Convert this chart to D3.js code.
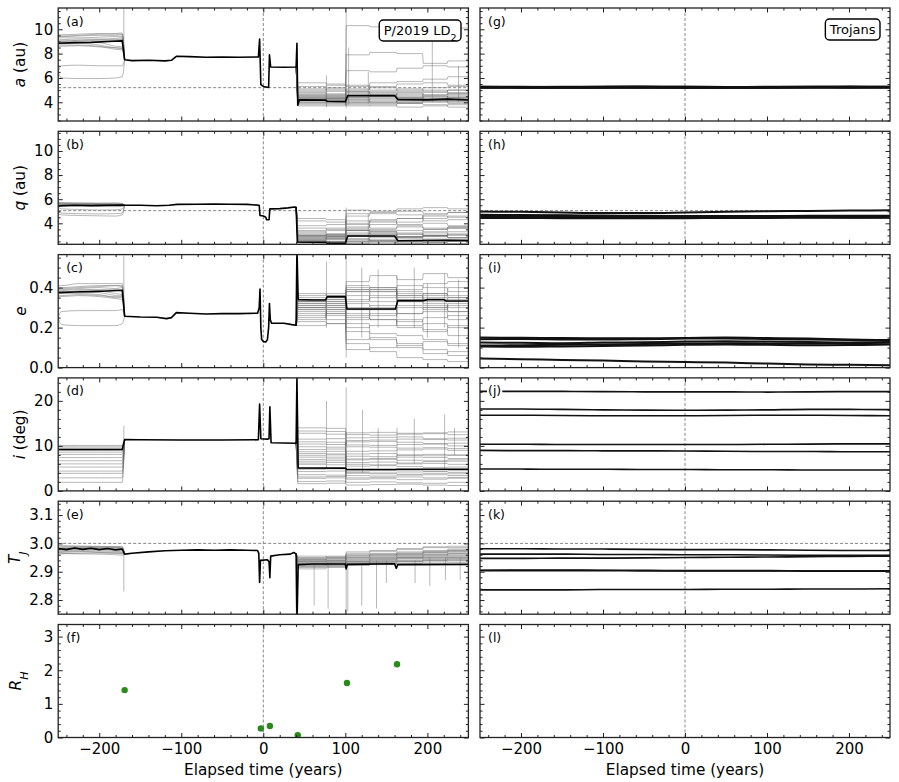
<!DOCTYPE html>
<html>
<head>
<meta charset="utf-8">
<script src="https://cdn.jsdelivr.net/npm/d3@7"></script>
<style>
  body { margin: 0; background: #fff; }
  svg text { font-family: "DejaVu Sans", sans-serif; }
</style>
</head>
<body>
<svg id="chart" width="899" height="782"></svg>
<script>
// ---------------- data ----------------

// nominal orbit of P/2019 LD2: [elapsed years, value]
const nominalA = [[-250, 8.85], [-230, 8.9], [-210, 8.92], [-190, 9.0], [-172, 9.05], [-169, 7.5], [-160, 7.42],
  [-140, 7.45], [-120, 7.4], [-112, 7.45], [-106, 7.78], [-90, 7.75], [-70, 7.7], [-50, 7.72], [-30, 7.7],
  [-6, 7.72], [-4.5, 9.2], [-3, 5.45], [0, 5.3], [6.5, 5.22], [7.5, 7.9], [9, 6.9], [25, 6.88], [40, 6.9],
  [41, 8.85], [42, 3.75], [44, 4.2], [76, 4.18], [78, 4.07], [100, 4.05], [103, 4.55], [160, 4.55],
  [164, 4.22], [200, 4.2], [225, 4.26], [250, 4.2]];
const nominalQ = [[-250, 5.45], [-230, 5.5], [-210, 5.47], [-190, 5.5], [-172, 5.52], [-169, 5.5], [-150, 5.5],
  [-130, 5.46], [-115, 5.5], [-105, 5.57], [-80, 5.58], [-60, 5.6], [-40, 5.58], [-20, 5.57], [-5, 5.5],
  [-4, 4.65], [0, 4.6], [3, 4.5], [4, 4.3], [7, 4.3], [8, 5.2], [20, 5.22], [30, 5.28], [38, 5.35], [40, 5.32],
  [41.5, 2.45], [60, 2.43], [76, 2.42], [78, 2.35], [100, 2.34], [103, 2.95], [160, 2.95], [164, 2.56],
  [200, 2.58], [225, 2.6], [250, 2.57]];
const nominalE = [[-250, 0.375], [-230, 0.378], [-210, 0.38], [-190, 0.383], [-172, 0.387], [-169, 0.257],
  [-150, 0.253], [-130, 0.252], [-118, 0.245], [-112, 0.25], [-106, 0.275], [-90, 0.272], [-70, 0.268],
  [-50, 0.27], [-30, 0.27], [-7, 0.272], [-5, 0.3], [-4, 0.393], [-3, 0.2], [-2, 0.14], [0, 0.13], [3, 0.128],
  [5, 0.14], [6.5, 0.2], [7.5, 0.32], [8.5, 0.24], [10, 0.222], [25, 0.222], [35, 0.215], [40, 0.212],
  [41, 0.6], [42.5, 0.34], [60, 0.338], [76, 0.338], [78, 0.355], [100, 0.355], [102, 0.293], [161, 0.293],
  [164, 0.335], [195, 0.335], [200, 0.34], [220, 0.34], [223, 0.333], [250, 0.333]];
const nominalI = [[-250, 9.2], [-200, 9.2], [-172, 9.2], [-169, 11.4], [-150, 11.35], [-100, 11.3], [-50, 11.3],
  [-6, 11.35], [-4.5, 19.3], [-3, 11.6], [5, 11.5], [7, 11.6], [8, 18.7], [9.5, 10.7], [25, 10.65], [40, 10.6],
  [41, 25.5], [42.5, 5.1], [100, 5.05], [102, 4.75], [160, 4.75], [164, 4.8], [250, 4.8]];
const nominalT = [[-250, 2.982], [-240, 2.978], [-230, 2.984], [-220, 2.979], [-210, 2.983], [-200, 2.978],
  [-190, 2.982], [-180, 2.977], [-172, 2.98], [-169, 2.962], [-160, 2.965], [-140, 2.97], [-120, 2.974],
  [-100, 2.976], [-80, 2.977], [-60, 2.976], [-40, 2.977], [-20, 2.976], [-7, 2.975], [-5.5, 2.965],
  [-4.5, 2.862], [-3.5, 2.94], [5, 2.942], [7, 2.935], [8, 2.879], [9, 2.955], [20, 2.96], [33, 2.962],
  [37, 2.968], [40, 2.963], [41, 2.7], [42.5, 2.925], [60, 2.927], [100, 2.927], [101, 2.91], [102.5, 2.926],
  [160, 2.928], [162, 2.912], [164, 2.925], [250, 2.926]];

// clones before the -170 yr encounter, values at these times
const preTimes = [-250, -246, -225, -200, -180, -172];
const preA = [
  [6.5, 7.0, 7.05, 7.0, 7.0, 7.0], [6.5, 6.0, 5.95, 5.95, 6.0, 6.1],
  [9.55, 9.55, 9.6, 9.65, 9.6, 9.6], [9.4, 9.4, 9.45, 9.5, 9.5, 9.55], [9.3, 9.3, 9.3, 9.35, 9.4, 9.4],
  [9.15, 9.15, 9.2, 9.2, 9.25, 9.3], [9.05, 9.05, 9.05, 9.1, 9.15, 9.2], [8.95, 8.95, 8.95, 8.9, 8.6, 8.55],
  [8.8, 8.8, 8.85, 8.7, 8.45, 8.4], [8.7, 8.7, 8.7, 8.6, 8.35, 8.3], [9.0, 9.0, 9.1, 9.15, 9.1, 9.15],
  [8.85, 8.85, 8.9, 8.95, 9.0, 9.0], [9.45, 9.45, 9.5, 9.6, 9.65, 9.7], [8.6, 8.6, 8.65, 8.55, 8.5, 8.45]];
const preQ = [
  [5.75, 5.72, 5.7, 5.68, 5.7, 5.65], [5.65, 5.65, 5.62, 5.6, 5.58, 5.6], [5.6, 5.58, 5.55, 5.55, 5.52, 5.55],
  [5.5, 5.5, 5.48, 5.45, 5.45, 5.48], [5.7, 5.68, 5.66, 5.64, 5.62, 5.6], [5.55, 5.52, 5.5, 5.52, 5.55, 5.52],
  [5.4, 5.42, 5.45, 5.4, 5.38, 5.42], [5.62, 5.6, 5.6, 5.58, 5.6, 5.57], [4.9, 4.85, 4.8, 4.78, 4.8, 4.85],
  [4.8, 4.7, 4.65, 4.62, 4.6, 4.7], [5.35, 5.2, 5.15, 5.1, 5.12, 5.2], [5.48, 5.47, 5.45, 5.5, 5.47, 5.45]];
const preE = [
  [0.41, 0.41, 0.42, 0.42, 0.42, 0.42], [0.40, 0.40, 0.405, 0.41, 0.41, 0.405], [0.39, 0.39, 0.395, 0.40, 0.395, 0.40],
  [0.385, 0.385, 0.39, 0.385, 0.37, 0.365], [0.38, 0.38, 0.38, 0.375, 0.36, 0.355], [0.37, 0.37, 0.37, 0.365, 0.35, 0.35],
  [0.36, 0.36, 0.365, 0.36, 0.355, 0.36], [0.395, 0.395, 0.40, 0.405, 0.41, 0.41], [0.355, 0.355, 0.36, 0.355, 0.345, 0.34],
  [0.25, 0.28, 0.285, 0.285, 0.285, 0.29], [0.25, 0.215, 0.21, 0.21, 0.21, 0.22], [0.375, 0.375, 0.385, 0.39, 0.39, 0.385]];
const preI = [
  [10.1, 10.1, 10.1, 10.1, 10.1, 10.1], [9.8, 9.8, 9.8, 9.8, 9.8, 9.8], [9.5, 9.5, 9.5, 9.5, 9.5, 9.5],
  [9.0, 9.0, 9.0, 9.0, 9.0, 9.0], [8.6, 8.6, 8.6, 8.6, 8.6, 8.6], [8.1, 8.1, 8.1, 8.1, 8.1, 8.1],
  [7.4, 7.4, 7.4, 7.4, 7.4, 7.4], [6.7, 6.7, 6.7, 6.7, 6.7, 6.7], [6.0, 6.0, 6.0, 6.0, 6.0, 6.0],
  [5.3, 5.3, 5.3, 5.3, 5.3, 5.3], [4.4, 4.4, 4.4, 4.4, 4.4, 4.4], [3.9, 3.9, 3.9, 3.9, 3.9, 3.9],
  [2.9, 2.9, 2.9, 2.9, 2.9, 2.9], [1.9, 1.9, 1.9, 1.9, 1.9, 1.9]];
const preT = [
  [2.99, 2.99, 2.99, 2.988, 2.986, 2.985], [2.985, 2.986, 2.987, 2.985, 2.983, 2.982], [2.978, 2.98, 2.982, 2.98, 2.978, 2.977],
  [2.972, 2.974, 2.975, 2.974, 2.972, 2.97], [2.968, 2.968, 2.97, 2.968, 2.966, 2.965], [2.962, 2.963, 2.965, 2.966, 2.965, 2.963],
  [2.993, 2.992, 2.99, 2.99, 2.988, 2.99], [2.975, 2.977, 2.979, 2.982, 2.984, 2.98], [2.966, 2.965, 2.963, 2.962, 2.96, 2.958],
  [2.98, 2.982, 2.985, 2.987, 2.988, 2.986], [2.97, 2.971, 2.972, 2.97, 2.969, 2.968], [2.984, 2.983, 2.98, 2.978, 2.976, 2.975]];

// clones after the +40 yr encounter, one level per interval between these times
const postTimes = [42, 77, 101, 130, 163, 195, 225, 250];
const postA = [
  [4.2, 4.1, 4.5, 4.5, 4.3, 4.2, 4.2], [4.4, 4.3, 4.0, 4.1, 4.0, 4.2, 4.1], [4.6, 4.7, 4.4, 4.5, 4.8, 4.6, 4.7],
  [5.0, 5.2, 5.4, 5.3, 5.5, 5.6, 5.4], [5.6, 5.5, 5.3, 5.0, 5.1, 4.9, 5.0], [4.0, 3.9, 3.8, 3.7, 3.9, 3.8, 3.6],
  [3.8, 3.7, 4.2, 4.3, 4.0, 4.1, 3.9], [4.3, 4.5, 4.7, 4.9, 5.0, 5.2, 5.3], [4.8, 4.6, 3.9, 4.0, 4.2, 4.4, 4.5],
  [4.1, 4.2, 4.3, 4.2, 4.4, 4.3, 4.6], [5.3, 5.4, 6.6, 6.5, 6.8, 7.0, 6.9], [4.5, 4.4, 4.2, 4.0, 3.9, 4.0, 4.1],
  [4.2, 4.0, 4.8, 4.7, 4.5, 4.8, 5.0], [3.9, 4.1, 10.3, 10.2, 10.4, 10.3, 10.1], [4.7, 4.9, 5.1, 5.6, 5.7, 5.9, 6.1],
  [4.4, 4.3, 3.7, 3.8, 3.6, 3.7, 3.8], [5.1, 5.0, 4.9, 4.6, 4.4, 4.5, 4.3], [4.0, 4.3, 4.4, 4.6, 4.7, 4.6, 4.8],
  [4.6, 4.5, 7.9, 8.1, 8.0, 7.2, 7.4], [4.3, 4.2, 4.1, 4.4, 4.3, 4.1, 4.0], [3.7, 3.8, 4.0, 3.9, 4.1, 4.2, 4.4],
  [4.9, 5.1, 5.0, 5.2, 4.9, 5.0, 4.7], [4.5, 4.6, 4.9, 4.8, 4.6, 4.3, 4.2], [4.2, 4.4, 4.6, 4.5, 4.3, 4.5, 4.4]];
const postQ = [
  [2.5, 2.4, 3.0, 3.0, 2.6, 2.6, 2.6], [2.8, 2.7, 2.5, 2.6, 2.5, 2.7, 2.6], [3.0, 3.1, 3.4, 3.5, 3.8, 3.6, 3.7],
  [3.4, 3.6, 4.2, 4.1, 4.4, 4.6, 4.5], [4.2, 4.1, 3.9, 3.6, 3.7, 3.5, 3.6], [2.4, 2.4, 2.3, 2.4, 2.5, 2.4, 2.3],
  [2.6, 2.5, 3.1, 3.2, 2.9, 3.0, 2.8], [2.9, 3.1, 3.6, 3.9, 4.1, 4.4, 4.6], [3.3, 3.0, 2.5, 2.6, 2.8, 3.0, 3.1],
  [2.7, 2.8, 2.9, 2.8, 3.1, 3.0, 3.3], [3.8, 3.9, 5.1, 5.0, 5.2, 5.3, 5.2], [3.0, 2.9, 2.7, 2.5, 2.4, 2.5, 2.6],
  [2.6, 2.5, 3.4, 3.3, 3.1, 3.5, 3.7], [2.5, 2.7, 4.8, 4.9, 5.0, 4.8, 4.9], [3.2, 3.4, 3.7, 4.3, 4.4, 4.7, 4.9],
  [2.9, 2.8, 2.4, 2.5, 2.3, 2.4, 2.5], [3.6, 3.5, 3.4, 3.1, 2.9, 3.0, 2.8], [2.6, 2.9, 3.0, 3.3, 3.4, 3.3, 3.6],
  [3.1, 3.0, 4.6, 4.8, 4.7, 4.2, 4.3], [2.8, 2.7, 2.6, 2.9, 2.8, 2.6, 2.5], [2.4, 2.5, 2.7, 2.6, 2.8, 2.9, 3.1],
  [4.4, 4.3, 4.0, 4.2, 3.9, 4.0, 3.8], [3.0, 3.1, 3.5, 3.4, 3.2, 2.9, 2.8], [2.7, 2.9, 3.2, 3.1, 2.9, 3.2, 3.0]];
const postE = [
  [0.33, 0.35, 0.29, 0.29, 0.33, 0.33, 0.34], [0.31, 0.32, 0.39, 0.38, 0.36, 0.34, 0.35], [0.29, 0.28, 0.25, 0.24, 0.21, 0.22, 0.20],
  [0.27, 0.24, 0.14, 0.15, 0.10, 0.07, 0.08], [0.21, 0.22, 0.24, 0.29, 0.27, 0.30, 0.28], [0.36, 0.37, 0.38, 0.39, 0.37, 0.36, 0.40],
  [0.34, 0.35, 0.27, 0.26, 0.30, 0.29, 0.31], [0.30, 0.27, 0.18, 0.14, 0.12, 0.09, 0.06], [0.25, 0.29, 0.39, 0.40, 0.36, 0.32, 0.30],
  [0.32, 0.31, 0.30, 0.31, 0.27, 0.28, 0.24], [0.23, 0.22, 0.09, 0.10, 0.11, 0.13, 0.12], [0.30, 0.31, 0.34, 0.38, 0.41, 0.40, 0.38],
  [0.33, 0.35, 0.20, 0.21, 0.24, 0.19, 0.16], [0.35, 0.34, 0.41, 0.40, 0.34, 0.35, 0.33], [0.28, 0.26, 0.22, 0.17, 0.16, 0.14, 0.11],
  [0.31, 0.30, 0.43, 0.46, 0.44, 0.47, 0.45], [0.26, 0.29, 0.32, 0.30, 0.33, 0.31, 0.28], [0.34, 0.33, 0.26, 0.27, 0.23, 0.25, 0.26],
  [0.32, 0.34, 0.38, 0.36, 0.38, 0.37, 0.36], [0.29, 0.30, 0.12, 0.08, 0.05, 0.04, 0.03], [0.37, 0.36, 0.33, 0.35, 0.39, 0.42, 0.43],
  [0.24, 0.27, 0.29, 0.24, 0.20, 0.18, 0.21], [0.33, 0.32, 0.40, 0.39, 0.31, 0.30, 0.32], [0.30, 0.33, 0.36, 0.33, 0.35, 0.37, 0.35]];
const postI = [
  [5.0, 5.0, 4.7, 4.7, 4.8, 4.8, 4.8], [14.0, 13.9, 12.5, 12.4, 12.6, 12.7, 12.5], [12.8, 12.6, 11.8, 11.9, 12.0, 11.6, 11.7],
  [11.5, 11.6, 9.8, 9.7, 9.5, 9.6, 9.4], [10.4, 10.3, 10.9, 11.0, 10.8, 10.5, 10.6], [9.2, 9.3, 8.2, 8.3, 8.0, 7.8, 7.9],
  [8.3, 8.2, 7.1, 7.2, 7.5, 7.4, 7.2], [7.5, 7.5, 6.3, 6.4, 6.2, 6.5, 6.6], [6.6, 6.7, 5.5, 5.6, 5.4, 5.2, 5.3],
  [5.9, 5.8, 4.1, 4.0, 4.2, 4.3, 4.1], [4.3, 4.4, 3.4, 3.3, 3.5, 3.6, 3.4], [3.6, 3.5, 2.6, 2.7, 2.5, 2.6, 2.8],
  [2.8, 2.9, 1.9, 2.0, 1.8, 1.7, 1.9], [2.1, 2.2, 1.3, 1.4, 1.5, 1.3, 1.2], [1.6, 1.7, 8.8, 8.9, 9.1, 9.3, 9.0],
  [13.3, 13.2, 10.2, 10.1, 10.3, 10.4, 10.0], [10.9, 10.8, 6.9, 7.0, 6.8, 6.7, 6.9], [9.8, 9.7, 3.9, 3.8, 3.7, 3.9, 3.8],
  [8.7, 8.8, 11.2, 11.3, 11.5, 11.4, 11.3], [7.9, 8.0, 5.9, 5.8, 6.0, 6.1, 5.9], [7.0, 7.1, 2.9, 3.0, 3.1, 2.9, 3.0],
  [6.2, 6.3, 12.9, 13.0, 12.8, 12.9, 13.1], [4.8, 4.9, 4.4, 4.5, 4.6, 4.4, 4.5], [3.1, 3.2, 7.7, 7.6, 7.9, 8.1, 8.0]];
const postT = [
  [2.925, 2.922, 2.931, 2.930, 2.928, 2.930, 2.932], [2.935, 2.938, 2.945, 2.950, 2.955, 2.960, 2.958],
  [2.940, 2.945, 2.960, 2.965, 2.970, 2.975, 2.980], [2.915, 2.918, 2.925, 2.935, 2.940, 2.945, 2.950],
  [2.945, 2.940, 2.935, 2.940, 2.945, 2.950, 2.948], [2.930, 2.932, 2.950, 2.955, 2.962, 2.968, 2.972],
  [2.920, 2.925, 2.940, 2.945, 2.950, 2.955, 2.962], [2.950, 2.955, 2.965, 2.972, 2.978, 2.985, 2.990],
  [2.928, 2.930, 2.935, 2.938, 2.946, 2.952, 2.955], [2.938, 2.936, 2.925, 2.928, 2.935, 2.940, 2.945],
  [2.955, 2.950, 2.970, 2.975, 2.982, 2.988, 2.985], [2.910, 2.915, 2.930, 2.935, 2.938, 2.942, 2.940],
  [2.933, 2.940, 2.955, 2.960, 2.966, 2.970, 2.975], [2.942, 2.945, 2.948, 2.952, 2.958, 2.962, 2.966],
  [2.918, 2.920, 2.922, 2.925, 2.930, 2.935, 2.938], [2.948, 2.952, 2.942, 2.946, 2.952, 2.958, 2.964],
  [2.926, 2.928, 2.936, 2.944, 2.950, 2.948, 2.952], [2.936, 2.934, 2.958, 2.962, 2.960, 2.966, 2.970],
  [2.922, 2.926, 2.928, 2.932, 2.936, 2.940, 2.944], [2.944, 2.948, 2.952, 2.958, 2.965, 2.972, 2.976]];

// brief excursions of single clones at close approaches: [time, from, to]
const spikesA = [[-170, 7.5, 11.8], [77, 3.6, 6.2], [101, 3.5, 11.8], [104, 3.8, 8.5], [128, 3.9, 6.5], [206, 4.0, 9.0], [238, 4.0, 7.0]];
const spikesQ = [[101, 2.3, 5.3], [128, 2.4, 4.8]];
const spikesE = [[-170, 0.26, 0.56], [77, 0.2, 0.53], [101, 0.05, 0.56], [120, 0.15, 0.5], [140, 0.2, 0.49], [163, 0.25, 0.46],
  [184, 0.2, 0.5], [200, 0.15, 0.42], [221, 0.2, 0.47], [238, 0.1, 0.44]];
const spikesI = [[-170, 9.5, 14.5], [77, 5, 20], [101, 3, 23], [121, 4, 18], [140, 5, 14], [163, 6, 14], [184, 6, 16], [221, 5, 17], [233, 8, 14]];
const spikesT = [[-170, 2.83, 2.965], [62, 2.78, 2.93], [79, 2.77, 2.93], [101, 2.75, 2.93], [103, 2.76, 2.93], [120, 2.78, 2.93],
  [138, 2.77, 2.94], [150, 2.86, 2.94], [185, 2.86, 2.94], [203, 2.85, 2.95], [222, 2.87, 2.95], [240, 2.87, 2.95]];

// Hill radius of the close approaches
const rhTimes = [-169, -3, 8, 42, 102, 163];
const rhValues = [1.41, 0.27, 0.34, 0.07, 1.62, 2.18];

// Jupiter Trojans, values every 50 yr
const trojanTimes = [-250, -200, -150, -100, -50, 0, 50, 100, 150, 200, 250];
const trojanA = [
  [5.24, 5.23, 5.22, 5.23, 5.25, 5.24, 5.22, 5.22, 5.24, 5.25, 5.24], [5.26, 5.25, 5.24, 5.25, 5.27, 5.26, 5.24, 5.23, 5.25, 5.27, 5.26],
  [5.22, 5.21, 5.20, 5.21, 5.22, 5.21, 5.20, 5.21, 5.22, 5.23, 5.22], [5.25, 5.24, 5.26, 5.27, 5.25, 5.23, 5.24, 5.26, 5.27, 5.25, 5.24],
  [5.20, 5.22, 5.23, 5.22, 5.20, 5.21, 5.23, 5.24, 5.22, 5.21, 5.22], [5.27, 5.26, 5.25, 5.26, 5.28, 5.27, 5.25, 5.24, 5.26, 5.28, 5.27]];
const trojanQ = [
  [4.97, 4.95, 4.9, 4.86, 4.86, 4.9, 4.95, 5.0, 5.03, 5.06, 5.08], [4.45, 4.44, 4.43, 4.42, 4.42, 4.43, 4.44, 4.45, 4.46, 4.46, 4.47],
  [4.52, 4.5, 4.48, 4.46, 4.45, 4.46, 4.48, 4.5, 4.5, 4.49, 4.5], [4.66, 4.65, 4.63, 4.6, 4.58, 4.56, 4.55, 4.55, 4.56, 4.58, 4.58],
  [4.7, 4.68, 4.66, 4.64, 4.62, 4.6, 4.6, 4.61, 4.62, 4.63, 4.62], [4.58, 4.57, 4.55, 4.53, 4.52, 4.52, 4.53, 4.54, 4.55, 4.55, 4.56]];
const trojanE = [
  [0.045, 0.042, 0.038, 0.035, 0.030, 0.028, 0.025, 0.020, 0.016, 0.014, 0.012], [0.150, 0.149, 0.148, 0.147, 0.147, 0.148, 0.150, 0.148, 0.145, 0.140, 0.138],
  [0.142, 0.143, 0.141, 0.140, 0.142, 0.145, 0.146, 0.143, 0.140, 0.138, 0.135], [0.110, 0.112, 0.114, 0.116, 0.118, 0.120, 0.122, 0.121, 0.120, 0.122, 0.124],
  [0.105, 0.104, 0.106, 0.108, 0.110, 0.114, 0.116, 0.114, 0.112, 0.113, 0.115], [0.125, 0.124, 0.122, 0.125, 0.127, 0.130, 0.132, 0.130, 0.128, 0.126, 0.128]];
const trojanI = [
  [22.1, 22.1, 22.1, 22.05, 22.0, 22.0, 22.0, 21.95, 22.0, 22.05, 22.05], [18.2, 18.2, 18.1, 18.0, 17.95, 17.9, 17.95, 18.0, 18.1, 18.1, 18.05],
  [16.8, 16.8, 16.75, 16.7, 16.7, 16.7, 16.75, 16.8, 16.8, 16.75, 16.7], [10.35, 10.35, 10.3, 10.3, 10.3, 10.3, 10.3, 10.35, 10.4, 10.45, 10.45],
  [9.0, 8.95, 8.95, 8.9, 8.9, 8.85, 8.8, 8.75, 8.75, 8.7, 8.7], [4.85, 4.85, 4.8, 4.8, 4.75, 4.75, 4.7, 4.7, 4.65, 4.65, 4.65]];
const trojanT = [
  [2.981, 2.981, 2.980, 2.980, 2.979, 2.978, 2.978, 2.977, 2.976, 2.975, 2.975], [2.962, 2.962, 2.962, 2.961, 2.961, 2.960, 2.960, 2.959, 2.958, 2.958, 2.958],
  [2.947, 2.947, 2.948, 2.948, 2.949, 2.950, 2.951, 2.952, 2.953, 2.954, 2.955], [2.904, 2.904, 2.904, 2.904, 2.903, 2.903, 2.903, 2.903, 2.902, 2.902, 2.902],
  [2.905, 2.906, 2.906, 2.905, 2.905, 2.904, 2.904, 2.904, 2.903, 2.903, 2.903], [2.836, 2.836, 2.836, 2.837, 2.837, 2.837, 2.838, 2.838, 2.839, 2.839, 2.840]];

const xMajor = [-200, -100, 0, 100, 200];
const xMinor = [-240, -220, -180, -160, -140, -120, -80, -60, -40, -20, 20, 40, 60, 80, 120, 140, 160, 180, 220, 240];

// ---------------- layout ----------------
const svg = d3.select("#chart");
const colX = [[58.2, 468.4], [480, 890]];
const rowTop = 8, rowStep = 123.3, rowH = 113;
const ink = "#222";

const panels = [
  { label: ["(a)", "(g)"], domain: [2.46, 11.75], major: [4, 6, 8, 10], minorStep: 0.5, fmt: d3.format("d"), hline: 5.2,
    ylab: [["a", "i"], [" (au)", ""]], labX: 25,
    nominal: nominalA, pre: preA, post: postA, spikes: spikesA, trojans: trojanA, trojanW: 2.2 },
  { label: ["(b)", "(h)"], domain: [2.26, 11.63], major: [4, 6, 8, 10], minorStep: 0.5, fmt: d3.format("d"), hline: 5.05,
    ylab: [["q", "i"], [" (au)", ""]], labX: 25,
    nominal: nominalQ, pre: preQ, post: postQ, spikes: spikesQ, trojans: trojanQ, trojanW: 2.0 },
  { label: ["(c)", "(i)"], domain: [0, 0.565], major: [0, 0.2, 0.4], minorStep: 0.05, fmt: d3.format(".1f"), hline: null,
    ylab: [["e", "i"]], labX: 25.5,
    nominal: nominalE, pre: preE, post: postE, spikes: spikesE, trojans: trojanE, trojanW: 2.0 },
  { label: ["(d)", "(j)"], domain: [0, 25.1], major: [0, 10, 20], minorStep: 2, fmt: d3.format("d"), hline: null,
    ylab: [["i", "i"], [" (deg)", ""]], labX: 25,
    nominal: nominalI, pre: preI, post: postI, spikes: spikesI, trojans: trojanI, trojanW: 1.6 },
  { label: ["(e)", "(k)"], domain: [2.75, 3.149], major: [2.8, 2.9, 3.0, 3.1], minorStep: 0.02, fmt: d3.format(".1f"), hline: 3.0,
    ylab: [["T", "i"], ["J", "sub"]], labX: 20,
    nominal: nominalT, pre: preT, post: postT, spikes: spikesT, trojans: trojanT, trojanW: 1.6 },
  { label: ["(f)", "(l)"], domain: [0, 3.36], major: [0, 1, 2, 3], minorStep: 0.2, fmt: d3.format("d"), hline: null,
    ylab: [["R", "i"], ["H", "sub"]], labX: 21,
    nominal: null, pre: null, post: null, spikes: null, trojans: null }
];

function stepTicks(lo, hi, step, skip) {
  const out = [];
  for (let k = Math.ceil(lo / step - 1e-9); k * step <= hi + 1e-9; k++) {
    const v = +(k * step).toFixed(6);
    if (!skip.some(s => Math.abs(s - v) < 1e-9)) out.push(v);
  }
  return out;
}

function valueAt(series, t) {
  const hit = series.find(d => d[0] === t);
  return hit ? hit[1] : series[0][1];
}

panels.forEach((p, row) => {
  const y0 = rowTop + row * rowStep, y1 = y0 + rowH;
  const y = d3.scaleLinear().domain(p.domain).range([y1, y0]);
  const yMinor = stepTicks(p.domain[0], p.domain[1], p.minorStep, p.major);

  [0, 1].forEach(col => {
    const [x0, x1] = colX[col];
    const x = d3.scaleLinear().domain([-250, 250]).range([x0, x1]);
    const line = d3.line().x(d => x(d[0])).y(d => y(d[1]));
    const clipId = `clip-${row}-${col}`;
    svg.append("clipPath").attr("id", clipId)
      .append("rect").attr("x", x0).attr("y", y0).attr("width", x1 - x0).attr("height", y1 - y0);
    const g = svg.append("g").attr("clip-path", `url(#${clipId})`);

    if (col === 0 && p.nominal) {
      const cloneG = g.append("g").attr("fill", "none").attr("stroke", "#6a6a6a")
        .attr("stroke-width", 0.8).attr("stroke-opacity", 0.6);
      const joinPre = valueAt(p.nominal, -169);
      const smooth = d3.line().x(d => x(d[0])).y(d => y(d[1])).curve(d3.curveMonotoneX);
      p.pre.forEach(c => {
        const pts = preTimes.map((t, i) => [t, c[i]]);
        pts.push([-169, joinPre]);
        cloneG.append("path").attr("d", smooth(pts));
      });
      const joinPost = valueAt(p.nominal, 40);
      p.post.forEach(c => {
        const pts = [[40, joinPost]];
        c.forEach((v, i) => {
          pts.push([postTimes[i], v]);
          pts.push([postTimes[i + 1] - (i + 1 < c.length ? 0.8 : 0), v]);
        });
        cloneG.append("path").attr("d", line(pts));
      });
      p.spikes.forEach(s => {
        cloneG.append("line").attr("x1", x(s[0])).attr("x2", x(s[0]))
          .attr("y1", y(s[1])).attr("y2", y(s[2]));
      });
    }

    // reference lines
    g.append("line").attr("x1", x(0)).attr("x2", x(0)).attr("y1", y0).attr("y2", y1)
      .attr("stroke", "#888").attr("stroke-width", 1).attr("stroke-dasharray", "3,2");
    if (p.hline !== null) {
      g.append("line").attr("x1", x0).attr("x2", x1).attr("y1", y(p.hline)).attr("y2", y(p.hline))
        .attr("stroke", "#888").attr("stroke-width", 1).attr("stroke-dasharray", "3,2");
    }

    if (col === 0 && p.nominal) {
      g.append("path").attr("d", line(p.nominal)).attr("fill", "none")
        .attr("stroke", "#000").attr("stroke-width", 1.6).attr("stroke-linejoin", "round");
    }
    if (col === 1 && p.trojans) {
      const smooth = d3.line().x(d => x(d[0])).y(d => y(d[1])).curve(d3.curveMonotoneX);
      p.trojans.forEach(tr => {
        g.append("path").attr("d", smooth(trojanTimes.map((t, i) => [t, tr[i]])))
          .attr("fill", "none").attr("stroke", "#111").attr("stroke-width", p.trojanW);
      });
    }
    if (col === 0 && row === 5) {
      g.selectAll("circle").data(rhTimes).join("circle")
        .attr("cx", d => x(d)).attr("cy", (d, i) => y(rhValues[i])).attr("r", 3.2)
        .attr("fill", "#2a8a1a");
    }

    // axes with inward ticks on all four sides
    const styleAxis = sel => {
      sel.select(".domain").remove();
      sel.selectAll("line").attr("stroke", ink).attr("stroke-width", 1);
      sel.selectAll("text").attr("font-size", 15).attr("fill", "#000")
        .attr("font-family", "'DejaVu Sans', sans-serif");
    };
    const showX = row === 5;
    svg.append("g").attr("transform", `translate(0,${y1})`)
      .call(d3.axisBottom(x).tickValues(xMajor).tickSize(-4.5).tickPadding(6)
        .tickFormat(showX ? d3.format("d") : () => "")).call(styleAxis);
    svg.append("g").attr("transform", `translate(0,${y1})`)
      .call(d3.axisBottom(x).tickValues(xMinor).tickSize(-2.5).tickFormat(() => "")).call(styleAxis);
    svg.append("g").attr("transform", `translate(0,${y0})`)
      .call(d3.axisTop(x).tickValues(xMajor).tickSize(-4.5).tickFormat(() => "")).call(styleAxis);
    svg.append("g").attr("transform", `translate(0,${y0})`)
      .call(d3.axisTop(x).tickValues(xMinor).tickSize(-2.5).tickFormat(() => "")).call(styleAxis);
    svg.append("g").attr("transform", `translate(${x0},0)`)
      .call(d3.axisLeft(y).tickValues(p.major).tickSize(-4.5).tickPadding(5)
        .tickFormat(col === 0 ? p.fmt : () => "")).call(styleAxis);
    svg.append("g").attr("transform", `translate(${x0},0)`)
      .call(d3.axisLeft(y).tickValues(yMinor).tickSize(-2.5).tickFormat(() => "")).call(styleAxis);
    svg.append("g").attr("transform", `translate(${x1},0)`)
      .call(d3.axisRight(y).tickValues(p.major).tickSize(-4.5).tickFormat(() => "")).call(styleAxis);
    svg.append("g").attr("transform", `translate(${x1},0)`)
      .call(d3.axisRight(y).tickValues(yMinor).tickSize(-2.5).tickFormat(() => "")).call(styleAxis);

    svg.append("rect").attr("x", x0).attr("y", y0).attr("width", x1 - x0).attr("height", y1 - y0)
      .attr("fill", "none").attr("stroke", ink).attr("stroke-width", 1.3);

    // panel letter on a white box
    const lab = svg.append("g");
    const lt = lab.append("text").attr("x", x0 + 8).attr("y", y0 + 17.5)
      .attr("font-size", 12.5).text(p.label[col]);
    const bb = lt.node().getBBox();
    lab.insert("rect", "text").attr("x", bb.x - 1).attr("y", bb.y).attr("width", bb.width + 2)
      .attr("height", bb.height).attr("fill", "#fff");

    if (showX) {
      svg.append("text").attr("x", (x0 + x1) / 2).attr("y", 775).attr("text-anchor", "middle")
        .attr("font-size", 15.3).text("Elapsed time (years)");
    }
  });

  // y-axis title
  const yt = svg.append("text").attr("transform", `translate(${p.labX},${(y0 + y1) / 2}) rotate(-90)`)
    .attr("text-anchor", "middle").attr("font-size", 15.3);
  p.ylab.forEach(([s, kind]) => {
    const ts = yt.append("tspan").text(s);
    if (kind === "i") ts.attr("font-style", "italic");
    if (kind === "sub") ts.attr("font-style", "italic").attr("font-size", 11).attr("baseline-shift", "sub");
  });
});

// legend boxes
function tagBox(xRight, yTop, parts) {
  const g = svg.append("g");
  const t = g.append("text").attr("x", 0).attr("y", 0).attr("font-size", 13);
  parts.forEach(([s, sub]) => {
    const ts = t.append("tspan").text(s);
    if (sub) ts.attr("font-size", 9.5).attr("baseline-shift", "sub");
  });
  const w = t.node().getComputedTextLength();
  const boxW = w + 9, boxH = 21;
  t.attr("x", xRight - boxW + 4.5).attr("y", yTop + 15);
  g.insert("rect", "text").attr("x", xRight - boxW).attr("y", yTop).attr("width", boxW).attr("height", boxH)
    .attr("rx", 4).attr("fill", "#fff").attr("stroke", "#000").attr("stroke-width", 1.4);
}
tagBox(461, 20, [["P/2019 LD", false], ["2", true]]);
tagBox(880, 19, [["Trojans", false]]);
</script>
</body>
</html>
